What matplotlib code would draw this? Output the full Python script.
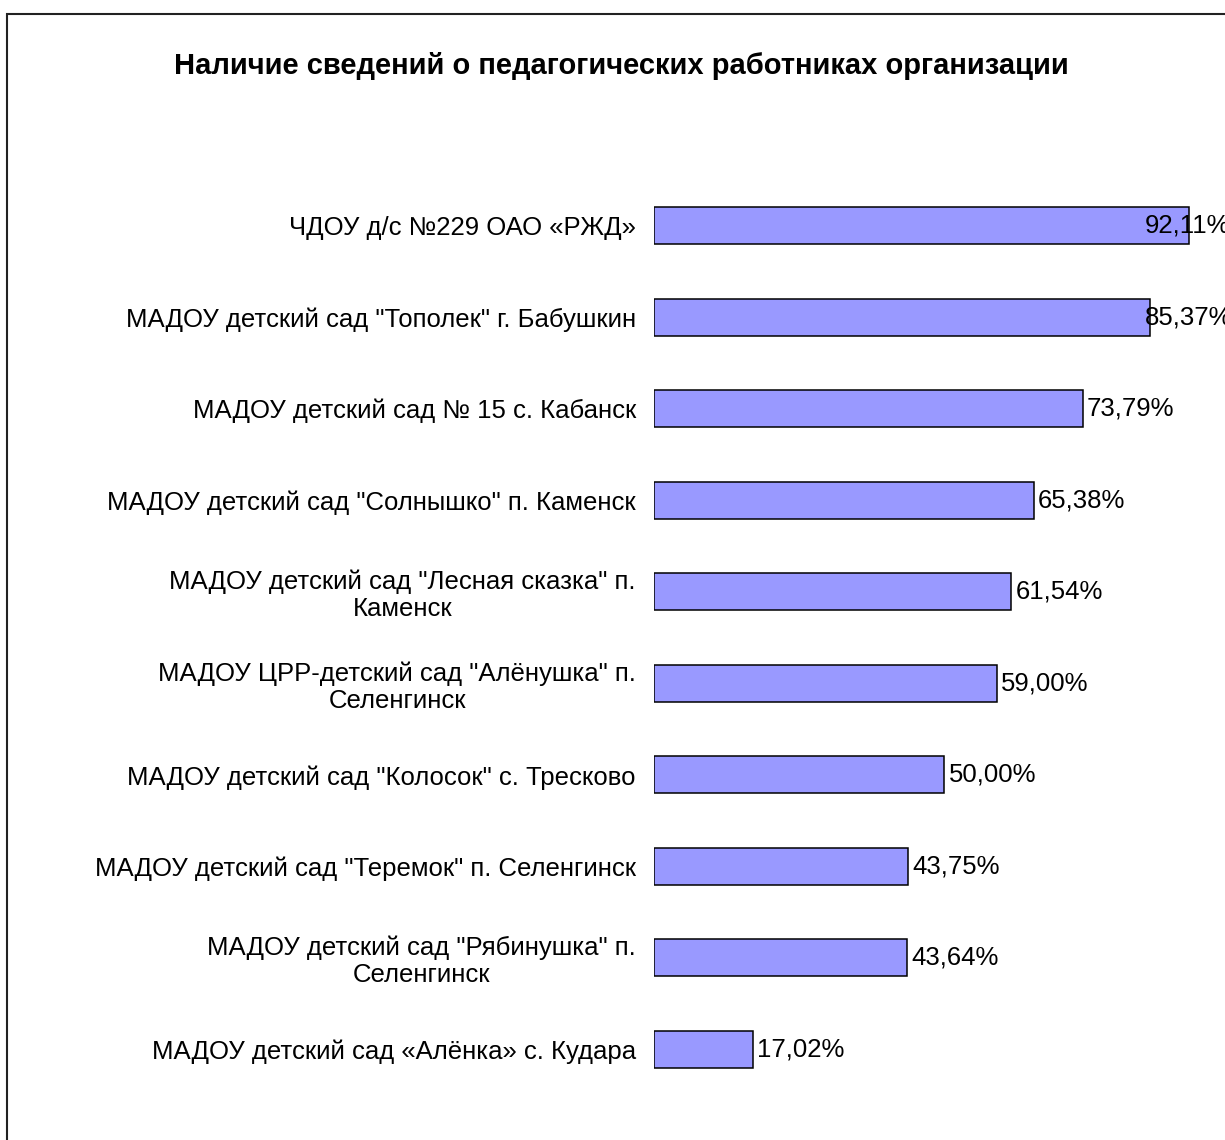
import matplotlib
matplotlib.use('Agg')
import matplotlib.pyplot as plt
from matplotlib.patches import Rectangle

plt.rcParams['font.family'] = ['Liberation Sans', 'DejaVu Sans']

# ===== данные =====
labels = [
    'ЧДОУ д/с №229 ОАО «РЖД»',
    'МАДОУ детский сад "Тополек" г. Бабушкин',
    'МАДОУ детский сад № 15 с. Кабанск',
    'МАДОУ детский сад "Солнышко" п. Каменск',
    'МАДОУ детский сад "Лесная сказка" п.\nКаменск',
    'МАДОУ ЦРР-детский сад "Алёнушка" п.\nСеленгинск',
    'МАДОУ детский сад "Колосок" с. Тресково',
    'МАДОУ детский сад "Теремок" п. Селенгинск',
    'МАДОУ детский сад "Рябинушка" п.\nСеленгинск',
    'МАДОУ детский сад «Алёнка» с. Кудара',
]
values = [92.11, 85.37, 73.79, 65.38, 61.54, 59.00, 50.00, 43.75, 43.64, 17.02]

W, H = 1225, 1140
fig = plt.figure(figsize=(W / 100, H / 100), dpi=100)

# рамка диаграммы (уходит за правый и нижний край)
fig.patches.append(Rectangle((7 / W, -0.1), 1.2, 1 - 14 / H + 0.1,
                             transform=fig.transFigure, fill=False,
                             edgecolor='#222222', linewidth=1.5))

# оси: 0..100% -> x 654..1235 px
left, right = 654, 654 + 100 * (1189 - 654) / 92.11
top, bottom = 180, 1095
ax = fig.add_axes([left / W, 1 - bottom / H, (right - left) / W, (bottom - top) / H])

y = list(range(len(values)))
ax.barh(y, values, height=0.4, color='#9999FF', edgecolor='black', linewidth=1.1)
ax.set_xlim(0, 100)
ax.set_ylim(len(values) - 0.5, -0.5)

ax.set_yticks(y)
ax.set_yticklabels(labels, fontsize=18.5, multialignment='center', linespacing=1.15)
ax.tick_params(axis='y', length=0, pad=13)
ax.set_xticks([])
for s in ax.spines.values():
    s.set_visible(False)

# подписи значений: как в Excel, сдвигаются не правее ~84%
clamp = 83.8
for yi, v in zip(y, values):
    ax.annotate(f'{v:.2f}%'.replace('.', ','), (min(v, clamp), yi),
                xytext=(3, 0), textcoords='offset points',
                va='center', ha='left', fontsize=18.5, annotation_clip=False)

fig.text(621 / W, 1 - 66 / H, 'Наличие сведений о педагогических работниках организации',
         ha='center', va='center', fontsize=21, fontweight='bold')

fig.savefig('out.png', dpi=100)
